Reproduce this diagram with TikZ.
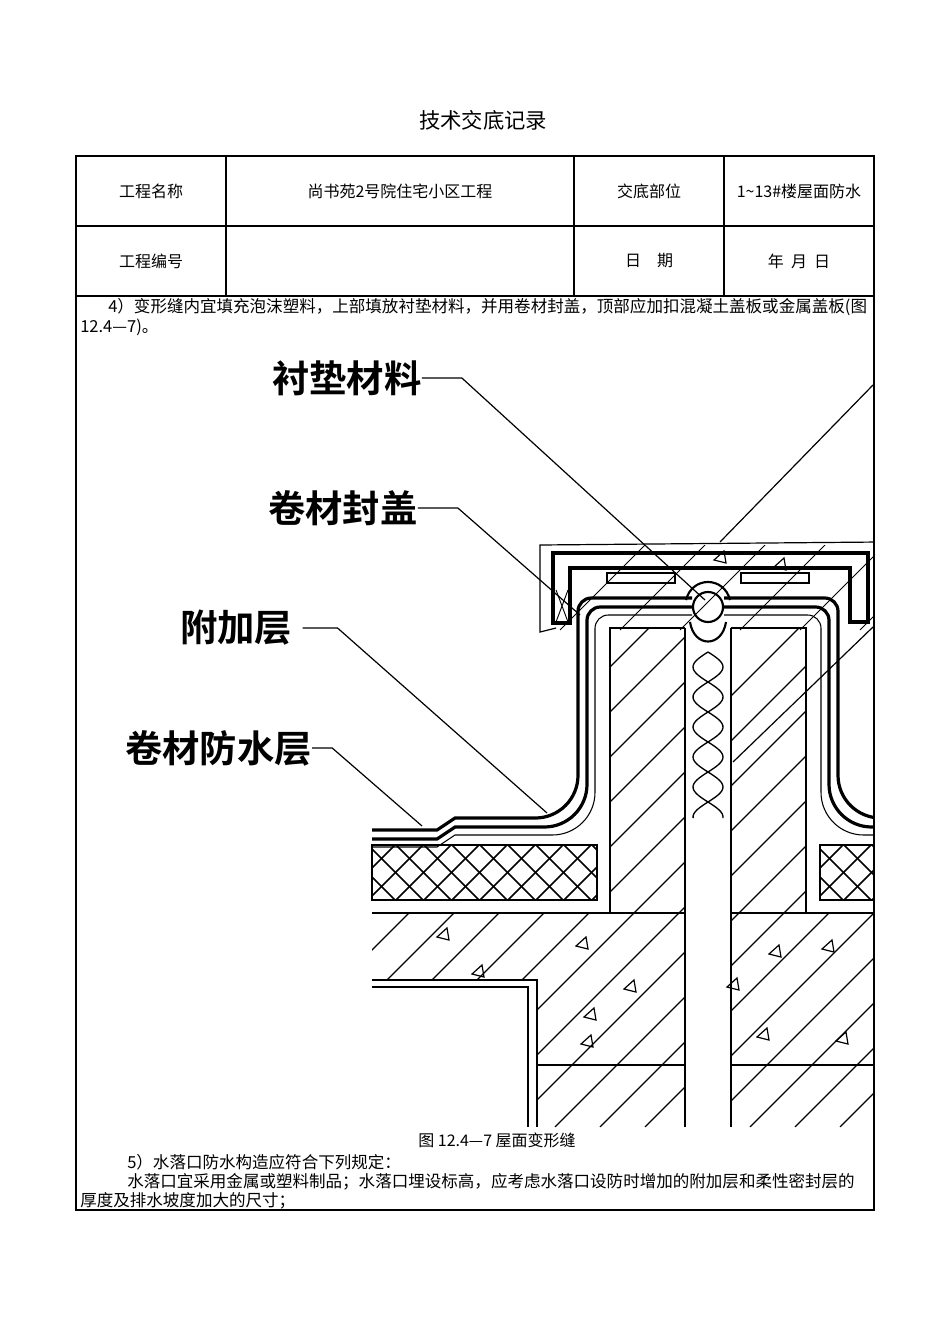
\documentclass[tikz,border=0pt]{standalone}
\usepackage{fontspec}
\setmainfont{Liberation Serif}
\newfontfamily\cjk{Noto Sans CJK SC}
\newfontfamily\cjkb{Noto Sans CJK SC Bold}
\begin{document}
\begin{tikzpicture}[x=0.75pt,y=-0.75pt,
  tbl/.style={line width=1.2pt},
  cell/.style={font=\cjk\fontsize{12}{14}\selectfont},
  para/.style={font=\cjk\fontsize{12.4}{14}\selectfont,anchor=west,inner sep=0},
  big/.style={font=\cjkb\fontsize{28}{30}\selectfont,anchor=west,inner sep=0},
  thk/.style={line width=2.2pt},
  hat/.style={line width=1pt},
  tri/.style={line width=0.9pt}]
\useasboundingbox[fill=white] (0,0) rectangle (950,1344);
% title and table
\node[font=\cjk\fontsize{16}{18}\selectfont] (title) at (483,120) {技术交底记录};
\draw[tbl] (76,156) rectangle (874,1210);
\draw[tbl] (76,226)--(874,226) (76,296)--(874,296);
\draw[tbl] (226,156)--(226,296) (574,156)--(574,296) (724,156)--(724,296);
\node[cell] (c1) at (151,191) {工程名称};
\node[cell] (c2) at (400,191) {尚书苑2号院住宅小区工程};
\node[cell] (c3) at (649,191) {交底部位};
\node[cell] (c4) at (799,191) {1\textasciitilde13\#楼屋面防水};
\node[cell] (c5) at (151,261) {工程编号};
\node[cell] (c6) at (649,261) {日\quad 期};
\node[cell] (c7) at (799,261) {年\ \ 月\ \ 日};
\node[para] (p1) at (108,307) {4）变形缝内宜填充泡沫塑料，上部填放衬垫材料，并用卷材封盖，顶部应加扣混凝土盖板或金属盖板(图};
\node[para] (p2) at (80,327) {12.4—7)。};
\node[cell] (cap) at (497,1140) {图 12.4—7 屋面变形缝};
\node[para] (p3) at (127,1162) {5）水落口防水构造应符合下列规定：};
\node[para] (p4) at (127,1182) {水落口宜采用金属或塑料制品；水落口埋设标高，应考虑水落口设防时增加的附加层和柔性密封层的};
\node[para] (p5) at (80,1201) {厚度及排水坡度加大的尺寸；};
% drawing
\begin{scope}
\clip (360,340) rectangle (873,1127);
% hatching left
\begin{scope}
\clip (610,628) rectangle (685,913) (372,913) rectangle (685,980) (537,980) rectangle (685,1127);
\foreach \k in {150,195,...,700} \draw[hat] (\k,1127) -- ++(520,-520);
\end{scope}
\begin{scope}
\clip (731,628) rectangle (806,913) (731,913) rectangle (873,1127);
\foreach \k in {300,345,...,900} \draw[hat] (\k,1127) -- ++(520,-520);
\end{scope}
\begin{scope}
\clip (556,545) rectangle (873,630);
\foreach \k in {560,620,...,900} \draw[line width=0.6pt] (\k,630) -- ++(90,-90);
\end{scope}
% insulation
\begin{scope}
\clip (372,845) rectangle (597,900) (820,845) rectangle (873,900);
\foreach \k in {340,368,...,900} {\draw[line width=1.1pt] (\k,900) -- ++(60,-60); \draw[line width=1.1pt] (\k,845) -- ++(60,60);}
\end{scope}
\draw[line width=1.3pt] (372,845) rectangle (597,900) (873,845) -- (820,845) -- (820,900) -- (873,900);
% structure lines
\draw[thk] (372,913)--(685,913) (731,913)--(873,913);
\draw[thk] (372,980)--(537,980)--(537,1127);
\draw[line width=0.8pt] (372,987)--(528,987)--(528,1127);
\draw[thk] (537,1065)--(685,1065) (731,1065)--(873,1065);
\draw[line width=1.4pt] (610,913)--(610,628)--(685,628);
\draw[line width=1.4pt] (806,913)--(806,628)--(731,628);
\draw[thk] (685,628)--(685,1127) (731,628)--(731,1127);
% foam
\draw[line width=1pt] plot[domain=652:818,samples=80] ({708+15*sin((\x-652)*6)},\x);
\draw[line width=1pt] plot[domain=652:818,samples=80] ({708-15*sin((\x-652)*6)},\x);
% rod
\draw[line width=1.6pt] (708,607) circle (15);
\draw[line width=1.6pt] (686,600) .. controls (692,576) and (724,576) .. (730,600);
\draw[line width=1.6pt] (690,622) .. controls (694,648) and (722,648) .. (726,622);
% waterproof layers left
\foreach \d/\w in {0/2.4,9/2.4,17/0.8} {
\draw[line width=\w pt] (372,{830+\d}) -- (437,{830+\d}) -- (455,{818+\d}) [rounded corners=32] -- ({578+\d},{818+\d}) [rounded corners=10] -- ({578+\d},{598+\d}) -- (692,{598+\d});
\draw[line width=\w pt] (724,{598+\d}) [rounded corners=10] -- ({838-\d},{598+\d}) [rounded corners=32] -- ({838-\d},{818+\d}) -- (880,{818+\d});
}
% lid
\draw[line width=0.9pt] (880,542) -- (540,545) -- (540,632) -- (556,628);
\draw[line width=2.6pt] (553,623)--(553,553)--(868,553)--(868,622)--(850,622)--(850,568)--(570,568)--(570,623)--cycle;
\draw[line width=0.7pt] (556,590)--(568,622) (556,622)--(568,590);
\draw[line width=1pt] (607,573) rectangle (675,583) (741,573) rectangle (809,583);
% triangles
\foreach \p in {(443,933),(478,970),(582,942),(630,985),(590,1013),(587,1040),(775,950),(828,945),(733,983),(763,1033),(842,1037),(720,556),(780,563)}
  \draw[tri] \p ++(-6,4) -- ++(10,-9) -- ++(2,12) -- cycle;
% leaders
\coordinate (t1) at (705,600);
\coordinate (t2) at (580,615);
\coordinate (t3) at (547,813);
\coordinate (t4) at (422,826);
\end{scope}
\node[big] (l1) at (272,378) {衬垫材料};
\node[big] (l2) at (268,508) {卷材封盖};
\node[big] (l3) at (180,628) {附加层};
\node[big] (l4) at (125,748) {卷材防水层};
\draw[line width=0.9pt] (l1.east) -- ++(40,0) -- (t1);
\draw[line width=0.9pt] (l2.east) -- ++(40,0) -- (t2);
\draw[line width=0.9pt] (l3.east) ++(10,0) -- ++(35,0) -- (t3);
\draw[line width=0.9pt] (l4.east) -- ++(20,0) -- (t4);
\coordinate (r1) at (873,385);
\coordinate (r2) at (720,542);
\coordinate (r3) at (873,627);
\coordinate (r4) at (733,762);
\draw[line width=0.9pt] (r1) -- (r2);
\draw[line width=0.9pt] (r3) -- (r4);
\end{tikzpicture}
\end{document}
